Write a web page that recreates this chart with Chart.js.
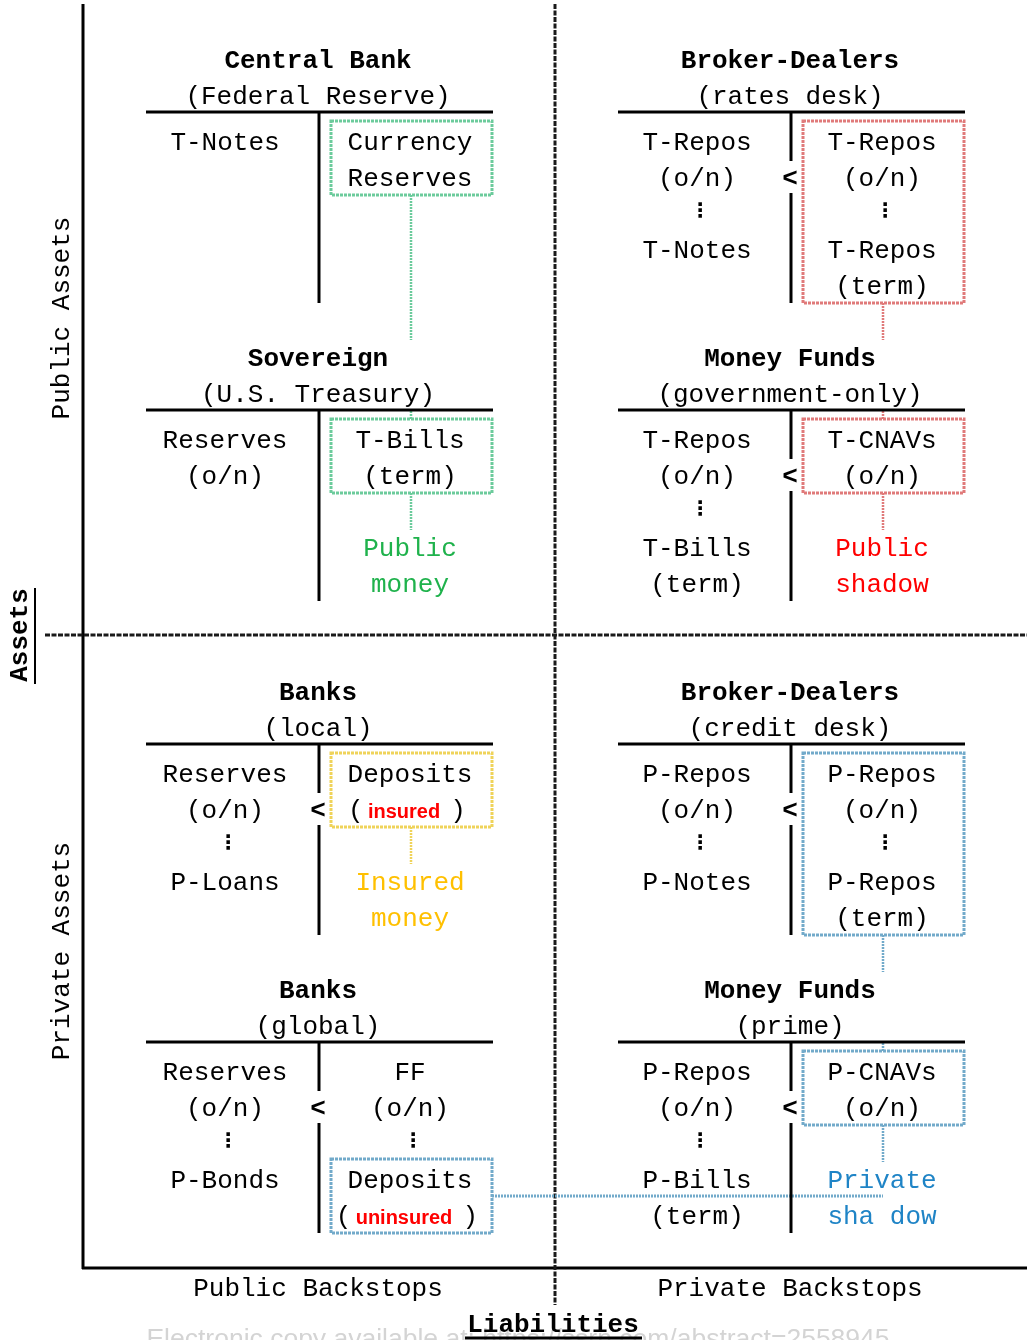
<!DOCTYPE html>
<html>
<head>
<meta charset="utf-8">
<script src="https://cdn.jsdelivr.net/npm/chart.js@4.4.1/dist/chart.umd.min.js"></script>
<style>
  body { margin: 0; background: #fff; }
  #wrap { width: 1027px; height: 1340px; position: relative; }
</style>
</head>
<body>
<div id="wrap"><canvas id="diagram"></canvas></div>
<script>
// balance sheets, read left-to-right, top-to-bottom
const sheetTitles = ["Central Bank", "Broker-Dealers", "Sovereign", "Money Funds", "Banks", "Broker-Dealers", "Banks", "Money Funds"];
const sheetSubtitles = ["(Federal Reserve)", "(rates desk)", "(U.S. Treasury)", "(government-only)", "(local)", "(credit desk)", "(global)", "(prime)"];
const assetItems = [
  ["T-Notes", "", "", "", ""],
  ["T-Repos", "(o/n)", "⋮", "T-Notes", ""],
  ["Reserves", "(o/n)", "", "", ""],
  ["T-Repos", "(o/n)", "⋮", "T-Bills", "(term)"],
  ["Reserves", "(o/n)", "⋮", "P-Loans", ""],
  ["P-Repos", "(o/n)", "⋮", "P-Notes", ""],
  ["Reserves", "(o/n)", "⋮", "P-Bonds", ""],
  ["P-Repos", "(o/n)", "⋮", "P-Bills", "(term)"]
];
const liabilityItems = [
  ["Currency", "Reserves", "", "", ""],
  ["T-Repos", "(o/n)", "⋮", "T-Repos", "(term)"],
  ["T-Bills", "(term)", "", "", ""],
  ["T-CNAVs", "(o/n)", "", "", ""],
  ["Deposits", "(insured)", "", "", ""],
  ["P-Repos", "(o/n)", "⋮", "P-Repos", "(term)"],
  ["FF", "(o/n)", "⋮", "Deposits", "(uninsured)"],
  ["P-CNAVs", "(o/n)", "", "", ""]
];
const lessThan = [false, true, false, true, true, true, true, true];
const boxedSlots = [[0, 1], [0, 4], [0, 1], [0, 1], [0, 1], [0, 4], [3, 4], [0, 1]];
const boxKind = ["public", "publicShadow", "public", "publicShadow", "insured", "private", "private", "private"];
const moneyLabels = [["Public", "money"], ["Public", "shadow"], ["Insured", "money"], ["Private", "sha dow"]];
const moneySheets = [2, 3, 4, 7];
const emphasized = ["insured", "uninsured"];
const rowLabels = ["Public Assets", "Private Assets"];
const colLabels = ["Public Backstops", "Private Backstops"];
const axisTitles = ["Assets", "Liabilities"];
const footnote = "Electronic copy available at: https://ssrn.com/abstract=2558945";

// layout
const colCenter = [318, 790];
const rowTop = [61, 359, 693, 991];
const slotOffset = [82, 118, 150, 190, 226];
const chains = [[0, 2], [1, 3], [5, 7]];
const kindStyle = {
  public: { text: "#1fb24c", box: "#6ccb9c" },
  publicShadow: { text: "#ff0000", box: "#e07a7a" },
  insured: { text: "#ffc000", box: "#efd35a" },
  private: { text: "#1f84c6", box: "#72aaca" }
};
const MONO = '"Liberation Mono", "Courier New", monospace';

const diagramPlugin = {
  id: "diagram",
  afterDraw(chart) {
    const c = chart.ctx;
    const sx = chart.scales.x, sy = chart.scales.y;
    const X = v => sx.getPixelForValue(v);
    const Y = v => sy.getPixelForValue(v);

    function line(x1, y1, x2, y2, color, w, dash) {
      c.save();
      c.strokeStyle = color; c.lineWidth = w;
      c.setLineDash(dash || []);
      c.beginPath(); c.moveTo(X(x1), Y(y1)); c.lineTo(X(x2), Y(y2)); c.stroke();
      c.restore();
    }
    function text(s, x, y, font, color, rot, align) {
      c.save();
      c.font = font; c.fillStyle = color || "#000";
      c.textAlign = align || "center"; c.textBaseline = "middle";
      c.translate(X(x), Y(y));
      if (rot) c.rotate(rot);
      c.fillText(s, 0, 0);
      c.restore();
    }
    function item(s, x, y, color) {
      if (!s) return;
      if (s === "⋮") { text(s, x + 3, y + 1, 'bold 20px "DejaVu Sans"', "#000"); return; }
      const m = s.match(/^\((\w+)\)$/);
      if (m && emphasized.includes(m[1])) {
        c.save(); c.font = 'bold 20px "Liberation Sans", Arial, sans-serif';
        const w = c.measureText(m[1]).width; c.restore();
        text(m[1], x - 6, y + 1, 'bold 20px "Liberation Sans", Arial, sans-serif', "#ff0000");
        text("(", x - 6 - w / 2 - 12, y, "26px " + MONO, "#000");
        text(")", x - 6 + w / 2 + 18, y, "26px " + MONO, "#000");
        return;
      }
      text(s, x, y, "26px " + MONO, color || "#000");
    }
    function box(x1, y1, x2, y2, color) {
      c.save();
      c.strokeStyle = color; c.lineWidth = 3; c.setLineDash([3, 1]);
      c.strokeRect(X(x1), Y(y1), X(x2) - X(x1), Y(y2) - Y(y1));
      c.restore();
    }

    // frame
    line(83, 4, 83, 1269, "#000", 3);
    line(82, 1268, 1027, 1268, "#000", 3);
    line(555, 4, 555, 1305, "#1a1a1a", 3, [5, 1.5]);
    line(45, 635, 1027, 635, "#1a1a1a", 3, [5, 1.5]);

    // axis and quadrant labels
    text(axisTitles[0], 20, 635, "bold 26px " + MONO, "#000", -Math.PI / 2);
    line(35, 588, 35, 684, "#000", 2);
    text(rowLabels[0], 62, 318, "26px " + MONO, "#000", -Math.PI / 2);
    text(rowLabels[1], 62, 951, "26px " + MONO, "#000", -Math.PI / 2);
    text(colLabels[0], 318, 1289, "26px " + MONO);
    text(colLabels[1], 790, 1289, "26px " + MONO);
    text(footnote, 518, 1340, '26.5px "Liberation Sans", Arial, sans-serif', "#d4d4d4");
    text(axisTitles[1], 553, 1325, "bold 26px " + MONO);
    line(465, 1338, 642, 1338, "#000", 3);

    const slotY = (s, k) => rowTop[Math.floor(s / 2)] + slotOffset[k];
    const boxRect = s => {
      const vx = colCenter[s % 2] + 1, b = boxedSlots[s];
      return [vx + 12, slotY(s, b[0]) - 22, vx + 173, slotY(s, b[1]) + 16];
    };

    // connectors (drawn first, text sits on top)
    const connX = s => colCenter[s % 2] + 93;
    chains.forEach(([a, b]) => {
      const col = kindStyle[boxKind[a]].box;
      line(connX(a), boxRect(a)[3], connX(a), rowTop[Math.floor(b / 2)] - 19, col, 2.5, [2, 1]);
      line(connX(b), rowTop[Math.floor(b / 2)] + 52, connX(b), boxRect(b)[1], col, 2.5, [2, 1]);
    });
    moneySheets.forEach(s => {
      const col = kindStyle[boxKind[s]].box;
      line(connX(s), boxRect(s)[3], connX(s), slotY(s, 3) - 19, col, 2.5, [2, 1]);
    });
    // uninsured deposits feed the private shadow
    const g = boxRect(6);
    line(g[2], slotY(6, 3) + 15, connX(7), slotY(6, 3) + 15, kindStyle.private.box, 3, [2, 1]);

    sheetTitles.forEach((title, s) => {
      const cx = colCenter[s % 2], top = rowTop[Math.floor(s / 2)];
      const vx = cx + 1;
      text(title, cx, top, "bold 26px " + MONO);
      text(sheetSubtitles[s], cx, top + 36, "26px " + MONO);
      line(cx - 172, top + 51, cx + 175, top + 51, "#000", 3);
      const yEnd = top + 242;
      if (lessThan[s]) {
        const ly = slotY(s, 1);
        line(vx, top + 51, vx, ly - 18, "#000", 3);
        line(vx, ly + 14, vx, yEnd, "#000", 3);
        text("<", vx - 1, ly, "bold 26px " + MONO);
      } else {
        line(vx, top + 51, vx, yEnd, "#000", 3);
      }
      const r = boxRect(s);
      box(r[0], r[1], r[2], r[3], kindStyle[boxKind[s]].box);
      assetItems[s].forEach((t, k) => item(t, cx - 93, top + slotOffset[k]));
      liabilityItems[s].forEach((t, k) => item(t, cx + 92, top + slotOffset[k]));
      const mi = moneySheets.indexOf(s);
      if (mi >= 0) {
        moneyLabels[mi].forEach((t, k) => item(t, cx + 92, top + slotOffset[3 + k], kindStyle[boxKind[s]].text));
      }
    });
  }
};

new Chart(document.getElementById("diagram"), {
  type: "scatter",
  data: { datasets: [{ data: [], pointRadius: 0 }] },
  options: {
    responsive: true,
    maintainAspectRatio: false,
    animation: false,
    layout: { padding: 0 },
    plugins: { legend: { display: false }, tooltip: { enabled: false } },
    scales: {
      x: { type: "linear", min: 0, max: 1027, display: false },
      y: { type: "linear", min: 0, max: 1340, reverse: true, display: false }
    }
  },
  plugins: [diagramPlugin]
});
</script>
</body>
</html>
